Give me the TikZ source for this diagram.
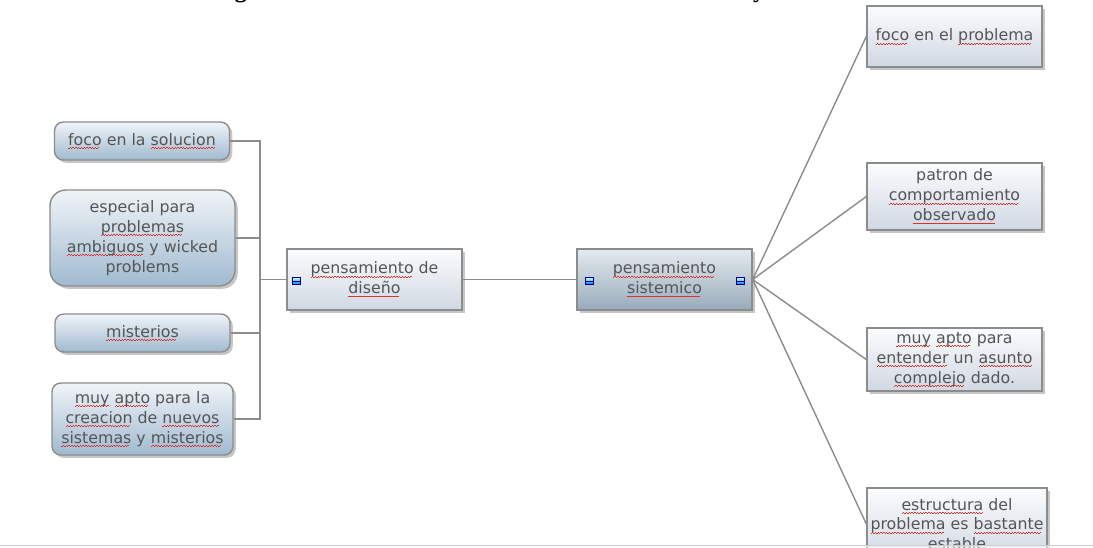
\documentclass[tikz,border=0pt]{standalone}
\usepackage{fontspec}
\setmainfont{DejaVu Sans}
\newfontfamily\capfont{Liberation Serif}
\usetikzlibrary{shadows,positioning}

\definecolor{edgegray}{HTML}{8C8C8C}
\definecolor{txtgray}{HTML}{555555}
\definecolor{leaftop}{HTML}{F0F4F8}
\definecolor{leafbot}{HTML}{A0BAD0}
\definecolor{paletop}{HTML}{FBFCFD}
\definecolor{palebot}{HTML}{D0D8E3}
\definecolor{hubtop}{HTML}{E4EAEF}
\definecolor{hubbot}{HTML}{98ABBB}
\definecolor{squiggle}{HTML}{E0302C}

% red zigzag underline for flagged words
\newcommand\sperr[1]{\leavevmode\setbox0\hbox{#1}%
  \rlap{\textcolor{squiggle}{\hbox to \wd0{\leaders\hbox to 1.6pt{\rule[-2.1pt]{0.8pt}{0.45pt}\rule[-1.6pt]{0.8pt}{0.45pt}}\hfill}}}\box0\relax}

\tikzset{
  idea/.style={draw=edgegray, line width=0.8pt, text=txtgray, align=center, inner sep=2pt,
    font=\fontsize{9}{11.3}\selectfont,
    drop shadow={shadow xshift=1.6pt, shadow yshift=-1.6pt, opacity=0.45}},
  leaf/.style={idea, rounded corners=5pt, top color=leaftop, bottom color=leafbot, minimum width=3.5cm, minimum height=0.76cm},
  pale/.style={idea, top color=paletop, bottom color=palebot, minimum width=3.5cm, minimum height=1.22cm},
  hub/.style={idea, top color=hubtop, bottom color=hubbot, minimum width=3.5cm, minimum height=1.22cm},
  link/.style={draw=edgegray, line width=0.8pt},
  togbox/.style={draw=blue!50!black, line width=0.3pt, top color=cyan!20, bottom color=blue!55!cyan, minimum width=4.5pt, minimum height=4pt, inner sep=0pt,
    path picture={\draw[blue!50!black, line width=0.5pt] ([yshift=-0.3pt]path picture bounding box.west) -- ([yshift=-0.3pt]path picture bounding box.east);}}
}

\begin{document}
\begin{tikzpicture}[x=0.02cm, y=-0.02cm]
    \useasboundingbox (0,0) rectangle (1093,548);

    % caption, cut by the top edge
    \node[anchor=base, font=\capfont\bfseries\fontsize{14}{16}\selectfont] (cap) at (552,-2.5) {Figura 3. Contrastación del Pensamiento de diseño y el sistémico};

    % left column
    \node[leaf] (sol) at (142,141) {\sperr{foco} en la \sperr{solucion}};
    \node[leaf, rounded corners=9pt, minimum width=3.7cm, minimum height=1.92cm] (amb) at (142.5,238) {especial para\\ \sperr{problemas}\\ \sperr{ambiguos} y wicked\\ problems};
    \node[leaf] (mis) at (142.5,333) {\sperr{misterios}};
    \node[leaf, minimum width=3.62cm, minimum height=1.44cm] (cre) at (142.5,419) {\sperr{muy} \sperr{apto} para la\\ \sperr{creacion} de \sperr{nuevos}\\ \sperr{sistemas} y \sperr{misterios}};

    % the two central ideas
    \node[pale] (dis) at (374.5,279.5) {\sperr{pensamiento} de\\ \sperr{diseño}};
    \node[hub] (sis) at (664.5,279.5) {\sperr{pensamiento}\\ \sperr{sistemico}};
    \node[togbox] (dis-t) at (296,281) {};
    \node[togbox] (sis-t) at (589,281) {};
    \node[togbox] (sis-r) at (740,281) {};

    % right column
    \node[pale] (foc) at (954.5,36.5) {\sperr{foco} en el \sperr{problema}};
    \node[pale, minimum height=1.34cm] (pat) at (954.5,196.5) {patron de\\ \sperr{comportamiento}\\ \sperr{observado}};
    \node[pale, minimum height=1.26cm] (ent) at (954.5,359.5) {\sperr{muy} \sperr{apto} para\\ \sperr{entender} un \sperr{asunto}\\ \sperr{complejo} dado.};
    \node[pale, minimum width=3.6cm, minimum height=1.44cm] (est) at (957,524) {\sperr{estructura} del\\ \sperr{problema} es \sperr{bastante}\\ estable};

    % bracket on the left
    \coordinate (bus) at (260,280);
    \foreach \n in {sol,amb,mis,cre}
        \draw[link] (\n.east) -- (\n.east -| bus) |- (dis.west);

    \draw[link] (dis.east) -- (sis.west);

    % fan on the right
    \foreach \n in {foc,pat,ent,est}
        \draw[link] (sis.east) -- (\n.west);

    % strip along the bottom edge
    \fill[white, opacity=0.55] (0,545) rectangle (1093,560);
    \draw[black!20] (0,545) -- (1093,545);
\end{tikzpicture}
\end{document}
